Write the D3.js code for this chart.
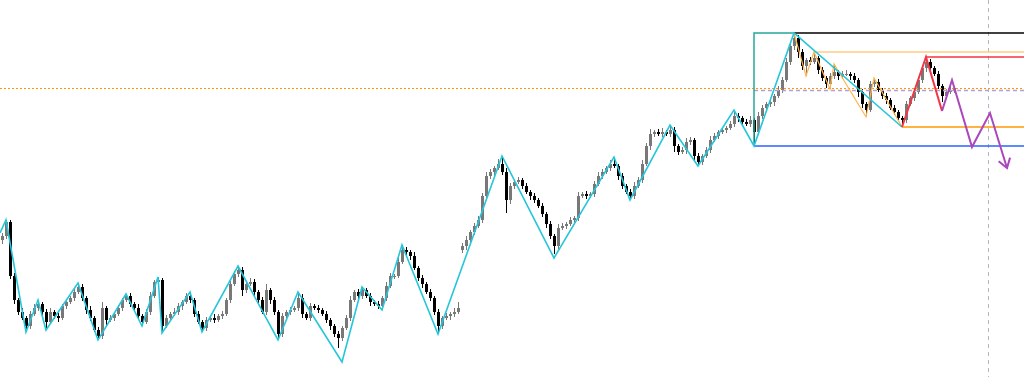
<!DOCTYPE html>
<html>
<head>
<meta charset="utf-8">
<script src="https://cdn.jsdelivr.net/npm/d3@7"></script>
<style>
  html, body { margin: 0; padding: 0; background: #fff; }
  svg { display: block; }
</style>
</head>
<body>
<svg width="1024" height="377"></svg>
<script>
// candle closes, one every bar (open = previous close)
const firstOpen = 160;
const closes = [
  164,178,124,100,88,82,74,86,92,96,
  88,78,88,84,82,94,98,102,108,113,
  102,90,82,70,64,92,80,82,86,92,
  100,104,96,92,84,78,88,104,118,120,
  74,82,86,88,94,98,104,100,86,78,
  72,80,82,80,84,86,100,116,126,130,
  110,116,118,108,100,88,110,100,88,66,
  84,88,90,92,102,86,82,94,92,90,
  86,80,74,66,62,72,82,100,108,104,
  110,104,98,96,94,102,114,124,124,138,
  150,148,144,132,122,116,108,102,88,74,
  82,84,86,88,92,154,160,168,174,180,
  204,224,228,232,236,228,200,214,218,220,
  214,208,204,200,194,186,176,164,154,172,
  174,176,180,182,204,206,204,206,216,224,
  228,232,236,234,224,214,208,204,214,220,
  236,254,266,268,266,268,266,270,254,248,
  250,258,260,244,238,244,250,260,264,268,
  270,272,276,284,282,278,276,280,268,284,
  292,296,298,304,310,320,338,354,362,348,
  334,340,338,342,330,322,316,324,328,324,
  326,326,324,320,308,296,290,316,318,310,
  304,300,292,288,282,280,296,302,308,320,
  332,338,332,326,314,304,308,310,312
];
// bars that opened with a gap
const gapOpens = { 115: 150 };
const upperWicks = [
  3,2,2,3,2,4,2,3,4,4,  2,3,4,2,3,2,3,2,3,4,  3,2,4,2,3,6,2,3,2,3,
  2,2,3,2,4,2,3,4,2,3,  2,3,2,4,3,2,3,4,2,3,  2,3,2,4,2,3,2,3,3,4,
  3,2,4,3,2,3,6,2,3,2,  3,2,3,2,6,4,2,3,2,3,  2,3,2,2,3,2,3,4,2,3,
  3,2,3,2,3,2,4,3,2,5,  5,3,2,4,2,3,2,3,2,3,  2,3,2,4,6,3,4,2,3,4,
  3,4,3,2,5,8,4,3,2,3,  2,3,2,3,2,3,2,3,2,4,  3,2,3,2,4,2,3,2,3,4,
  3,2,4,6,2,3,2,3,4,3,  4,3,5,2,3,4,2,5,3,2,  3,4,3,2,3,2,3,4,3,2,
  3,2,3,6,3,2,3,4,2,4,  3,2,3,2,4,3,4,3,5,3,  3,2,3,6,2,3,2,3,8,2,
  3,4,2,3,2,3,2,3,4,3,  2,3,2,3,2,2,3,2,4,3,  3,5,3,2,3,2,3,4,2
];
const lowerWicks = [
  4,3,3,4,3,2,6,3,2,3,  3,8,2,3,4,2,3,2,3,2,  3,4,3,2,4,3,6,2,3,2,
  3,2,3,2,3,4,2,3,2,3,  7,2,3,2,3,4,2,3,3,2,  4,3,2,3,2,3,2,3,2,3,
  6,3,2,4,3,2,3,4,3,6,  3,2,3,2,3,4,2,3,2,3,  2,3,4,3,10,3,2,3,2,4,
  3,2,4,2,3,4,3,2,3,2,  2,3,4,2,3,4,2,3,3,8,  3,2,4,3,2,3,4,2,3,2,
  3,2,3,4,2,3,13,4,3,2, 3,2,4,3,2,3,4,3,8,3,  2,3,2,4,3,2,3,2,3,2,
  3,2,3,2,4,3,2,4,3,2,  3,2,4,3,2,3,2,3,6,3,  2,4,3,5,4,3,2,3,2,3,
  2,3,2,3,4,3,2,3,14,3, 3,2,3,4,2,3,2,3,4,6,  4,10,3,2,4,3,4,5,3,4,
  3,2,4,3,5,4,6,2,3,2,  3,4,2,3,2,6,3,2,3,2,  3,4,3,2,3,6,3,2,3
];

// zigzag pivots (bar index, price)
const zigIdx = [-0.5,1,6,9,11,19,24,31,35,39,40,47,50,59,69,74,85,90,95,100,109,125,138,153,157,167,174,183,188,198,225];
const zigPrice = [167,180,68,100,70,117,60,106,74,123,67,108,68,134,60,108,38,113,90,155,66,244,142,243,200,275,234,290,254,367,273];
const minorIdx = [198,201,203,207,208,216,218,225];
const minorPrice = [367,324,348,311,336,283,322,273];
const legIdx = [225,231,235];
const legPrice = [273,343,289];
const projIdx = [235,237.5,242.5,247,251.25];
const projPrice = [289,320,253,287,232];

// horizontal levels: price and starting bar
const levelPrice = [367,348,343,273,254];
const levelStart = [198,203,231,225,188];
const boxStart = 188, boxEnd = 198, boxTop = 367, boxBottom = 254;
const markPrice = 312;
const avgPrice = 310;
const cursorIdx = 246.5;

const width = 1024, height = 377;
const svg = d3.select("svg");

const x = d3.scaleLinear().domain([0, closes.length - 1]).range([2, 954]);
const y = d3.scaleLinear().domain([23, 400]).range([height, 0]);

const bars = closes.map((c, i) => {
  const o = gapOpens[i] !== undefined ? gapOpens[i] : (i === 0 ? firstOpen : closes[i - 1]);
  return {
    i: i, o: o, c: c,
    h: Math.max(o, c) + upperWicks[i],
    l: Math.min(o, c) - lowerWicks[i]
  };
});

const upColor = "#787878", downColor = "#000";

// vertical cursor line
svg.append("line")
  .attr("x1", x(cursorIdx) + 0.5).attr("x2", x(cursorIdx) + 0.5)
  .attr("y1", 0).attr("y2", height)
  .attr("stroke", "#b2b5be").attr("stroke-width", 1)
  .attr("stroke-dasharray", "4,4");

// candles
const candles = svg.append("g");
candles.selectAll("line")
  .data(bars)
  .join("line")
  .attr("x1", d => x(d.i) + 0.5).attr("x2", d => x(d.i) + 0.5)
  .attr("y1", d => y(d.h)).attr("y2", d => y(d.l))
  .attr("stroke", d => d.c >= d.o ? upColor : downColor)
  .attr("stroke-width", 1);
candles.selectAll("rect")
  .data(bars)
  .join("rect")
  .attr("x", d => x(d.i) - 1)
  .attr("width", 3)
  .attr("y", d => y(Math.max(d.o, d.c)))
  .attr("height", d => Math.max(1, Math.abs(y(d.o) - y(d.c))))
  .attr("fill", d => d.c >= d.o ? upColor : downColor);

// dotted mark price line
svg.append("line")
  .attr("x1", 0).attr("x2", width)
  .attr("y1", y(markPrice) + 0.5).attr("y2", y(markPrice) + 0.5)
  .attr("stroke", "#ff9800").attr("stroke-width", 1)
  .attr("stroke-dasharray", "2,2");

svg.append("line")
  .attr("x1", x(boxStart)).attr("x2", width)
  .attr("y1", y(avgPrice) + 0.5).attr("y2", y(avgPrice) + 0.5)
  .attr("stroke", "#b39ddb").attr("stroke-width", 1.5)
  .attr("stroke-dasharray", "4,3");

// levels
const levelColors = ["#000000", "#ffcc80", "#f23645", "#ff9800", "#2962ff"];
svg.append("g").selectAll("line")
  .data(levelPrice)
  .join("line")
  .attr("x1", (d, k) => x(levelStart[k])).attr("x2", width)
  .attr("y1", d => y(d)).attr("y2", d => y(d))
  .attr("stroke", (d, k) => levelColors[k])
  .attr("stroke-width", 1.5);

// teal box sides
svg.append("path")
  .attr("d", d3.line()([[x(boxStart), y(boxBottom)], [x(boxStart), y(boxTop)], [x(boxEnd), y(boxTop)]]))
  .attr("fill", "none").attr("stroke", "#26a69a").attr("stroke-width", 1.5);

const zz = d3.line().x(d => x(d[0])).y(d => y(d[1]));

svg.append("path")
  .attr("d", zz(minorIdx.map((d, k) => [d, minorPrice[k]])))
  .attr("fill", "none").attr("stroke", "#ffb74d").attr("stroke-width", 1.2);

svg.append("path")
  .attr("d", zz(zigIdx.map((d, k) => [d, zigPrice[k]])))
  .attr("fill", "none").attr("stroke", "#26c6da").attr("stroke-width", 1.6);

svg.append("path")
  .attr("d", zz(legIdx.map((d, k) => [d, legPrice[k]])))
  .attr("fill", "none").attr("stroke", "#f23645").attr("stroke-width", 2);

svg.append("defs").append("marker")
  .attr("id", "arrow")
  .attr("viewBox", "-12 -8 14 16")
  .attr("markerWidth", 14).attr("markerHeight", 16)
  .attr("markerUnits", "userSpaceOnUse")
  .attr("orient", "auto")
  .append("path")
  .attr("d", "M-9,-6L0,0L-9,6")
  .attr("fill", "none").attr("stroke", "#ab47bc").attr("stroke-width", 2);

svg.append("path")
  .attr("d", zz(projIdx.map((d, k) => [d, projPrice[k]])))
  .attr("fill", "none").attr("stroke", "#ab47bc").attr("stroke-width", 2)
  .attr("marker-end", "url(#arrow)");
</script>
</body>
</html>
